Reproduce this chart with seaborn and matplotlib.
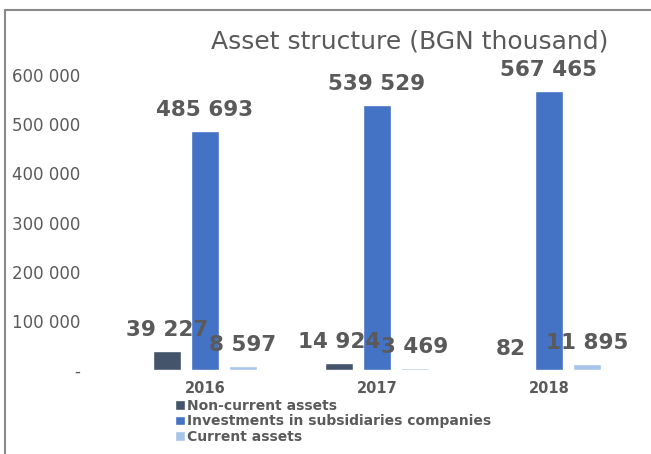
import numpy as np
import pandas as pd
import matplotlib.pyplot as plt
import seaborn as sns
from matplotlib.patches import Rectangle

# chart values
years = ["2016", "2017", "2018"]
series = ["Non-current assets", "Investments in subsidiaries companies", "Current assets"]
non_current = [39227, 14924, 82]
investments = [485693, 539529, 567465]
current = [8597, 3469, 11895]
ytick_vals = [0, 100000, 200000, 300000, 400000, 500000, 600000]
ytick_labels = ["-", "100 000", "200 000", "300 000", "400 000", "500 000", "600 000"]

colors = ["#44546a", "#4472c4", "#a9c4eb"]
grey = "#5a5a5a"

df = pd.DataFrame({
    "year": years * 3,
    "series": np.repeat(series, 3),
    "value": non_current + investments + current,
})

sns.set_style("white")
plt.rcParams["font.family"] = ["DejaVu Sans"]

W, H = 651, 454
fig = plt.figure(figsize=(W / 100, H / 100), dpi=100)
ax = fig.add_axes([100 / W, 1 - 370 / H, 540 / W, 295 / H])

sns.barplot(data=df, x="year", y="value", hue="series", palette=colors, saturation=1,
            width=0.66, gap=0.26, ax=ax, legend=True)

for cont in ax.containers:
    ax.bar_label(cont, fmt=lambda v: f"{v:,.0f}".replace(",", " "),
                 fontsize=15.5, fontweight="bold", color=grey, padding=8)

ax.set_ylim(0, 600000)
ax.set_xlim(-0.61, 2.53)
ax.set_yticks(ytick_vals)
ax.set_yticklabels(ytick_labels, fontsize=12, color=grey)
ax.tick_params(axis="y", length=0, pad=14)
ax.tick_params(axis="x", length=0, pad=8, labelsize=10.5, labelcolor=grey)
for lbl in ax.get_xticklabels():
    lbl.set_fontweight("bold")
ax.set_xlabel("")
ax.set_ylabel("")
for s in ax.spines.values():
    s.set_visible(False)

handles, labels = ax.get_legend_handles_labels()
ax.get_legend().remove()
leg = fig.legend(handles, labels, loc="upper left", bbox_to_anchor=(168 / W, 1 - 392 / H),
                 frameon=False, fontsize=10, handlelength=0.7, handleheight=0.7,
                 handletextpad=0.2, labelspacing=0.1, borderpad=0)
for t in leg.get_texts():
    t.set_color(grey)
    t.set_fontweight("bold")

fig.text(410 / W, 1 - 42 / H, "Asset structure (BGN thousand)", ha="center", va="center",
         fontsize=18, color=grey)

# outer chart frame
fig.patches.append(Rectangle((5 / W, -0.05), 1.1, 1 - 10 / H + 0.05, transform=fig.transFigure,
                             fill=False, edgecolor="#8a8a8a", linewidth=1.5))

fig.savefig("out.png", dpi=100)
